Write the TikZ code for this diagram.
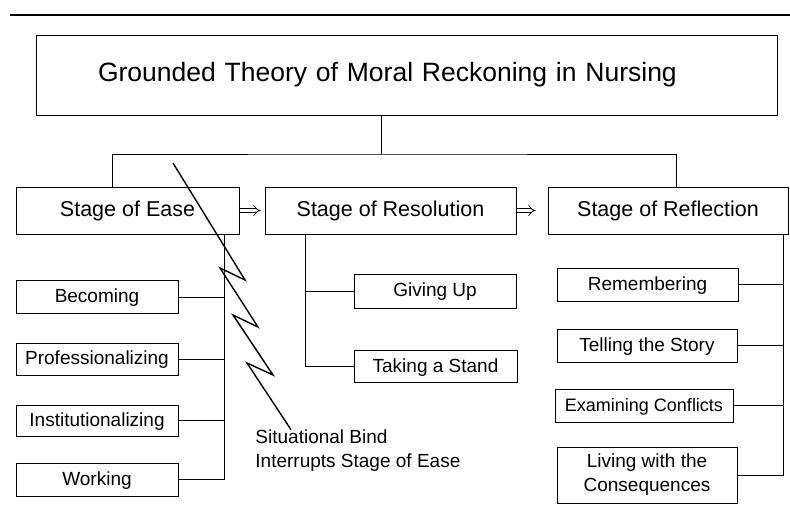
\documentclass[tikz,border=0pt]{standalone}
\usepackage{fontspec}
\setmainfont{Liberation Sans}
\usetikzlibrary{arrows.meta}

\begin{document}
\begin{tikzpicture}[x=1pt, y=-1pt, line width=0.9pt,
	box/.style={draw, rectangle, inner sep=0pt, font=\fontsize{19}{24}\selectfont},
	stagebox/.style={box, minimum height=47pt, text height=17pt, text depth=4pt, font=\fontsize{21.5}{26}\selectfont},
	subbox/.style={box, minimum height=33pt, text height=16pt, text depth=4pt},
	flow/.style={double, double distance=3pt, line width=0.8pt, -{Implies}, shorten <=1pt}]
								\useasboundingbox (0,0) rectangle (790,521);
								\draw[line width=1.3pt] (10,15) -- (790,15);
								\node[box, text width=617pt, inner xsep=62pt, minimum height=80pt, align=left, font=\fontsize{26.5}{30}\selectfont] (t) at (406.5,75) {Grounded Theory of Moral Reckoning in Nursing};
								\node[stagebox, minimum width=223pt] (s1) at (127.5,210.5) {Stage of Ease};
								\node[stagebox, minimum width=251pt] (s2) at (390.5,210.5) {Stage of Resolution};
								\node[stagebox, minimum width=240pt] (s3) at (668,210.5) {Stage of Reflection};
								\node[subbox, minimum width=162pt] (e1) at (97,297) {Becoming};
								\node[subbox, minimum width=162pt, minimum height=32pt] (e2) at (97,359) {Professionalizing};
								\node[subbox, minimum width=162pt, minimum height=31pt] (e3) at (97,420.5) {Institutionalizing};
								\node[subbox, minimum width=162pt] (e4) at (97,479.5) {Working};
								\node[subbox, minimum width=162pt, minimum height=34pt] (r1) at (435,291) {Giving Up};
								\node[subbox, minimum width=163pt, minimum height=32pt] (r2) at (435.5,366) {Taking a Stand};
								\node[subbox, minimum width=181pt] (f1) at (647.5,284.5) {Remembering};
								\node[subbox, minimum width=180pt] (f2) at (647,345.5) {Telling the Story};
								\node[subbox, minimum width=178pt, font=\fontsize{18}{24}\selectfont] (f3) at (644,405.5) {Examining Conflicts};
								\node[box, align=center, minimum width=180pt, minimum height=56pt] (f4) at (647,475) {Living with the\\Consequences};
								\node[align=left, inner sep=0pt, anchor=west, font=\fontsize{19}{24}\selectfont] (bind) at (255,451) {Situational Bind\\Interrupts Stage of Ease};
								\coordinate (top) at (381,154);
								\draw (t.south -| top) -- (top);
								\draw (s1.north -| 112,0) |- (top) -| (s3.north -| 676,0);
								\draw (s1.south -| 224,0) -- (e4.east -| 224,0) -- (e4.east);
								\foreach \x in {1,2,3}
									\draw (e\x.east) -- (e\x.east -| 224,0);
								\draw (s2.south -| 305,0) |- (r2.west);
								\draw (r1.west) -- (r1.west -| 305,0);
								\draw (s3.south -| 783,0) |- (f4.east);
								\foreach \x in {1,2,3}
									\draw (f\x.east) -- (f\x.east -| 783,0);
								\draw[flow, shorten >=4pt] (s1) -- (s2);
								\draw[flow, shorten >=12pt] (s2) -- (s3);
								\draw[line width=1.4pt] (173,163) -- (245,280) -- (220,268) -- (258,327) -- (233,315) -- (273,375) -- (247,363) -- ([xshift=36pt]bind.north west);
							\end{tikzpicture}
\end{document}
